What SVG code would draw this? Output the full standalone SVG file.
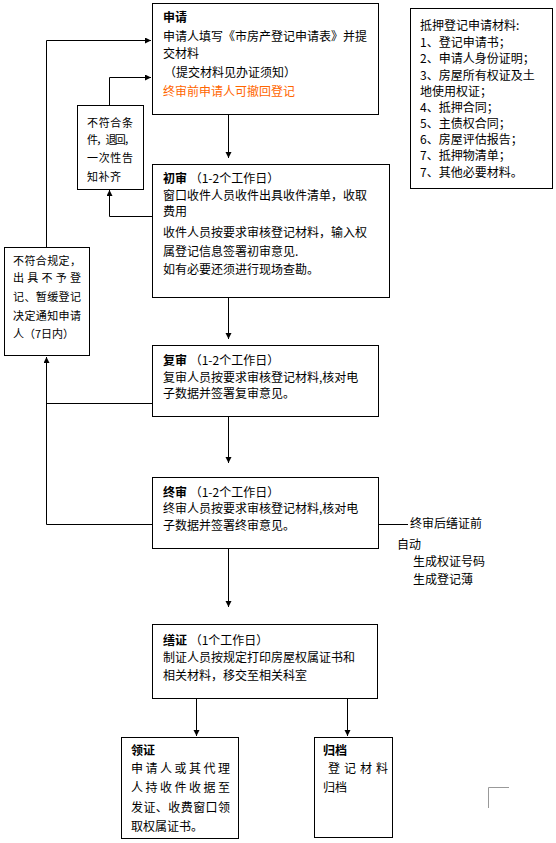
<svg xmlns="http://www.w3.org/2000/svg" width="556" height="843" viewBox="0 0 556 843">
<defs>
<marker id="ah" markerWidth="8" markerHeight="8" refX="6" refY="3" orient="auto" markerUnits="userSpaceOnUse">
<path d="M0,0 L6,3 L0,6 Z" fill="#000"/>
</marker>
<style>
text{font-family:"Noto Sans CJK SC","Noto Sans",sans-serif;font-size:12px;fill:#000}
.s{font-size:11px}
.b{font-weight:bold}
.o{fill:#FF6600}
rect{fill:#fff;stroke:#000;stroke-width:1}
.c{fill:none;stroke:#000;stroke-width:1}
</style>
</defs>
<rect x="0" y="0" width="556" height="843" style="stroke:none"/>
<g id="connectors">
<path class="c" d="M228.5,114 V158" marker-end="url(#ah)"/>
<path class="c" d="M228.5,297 V339" marker-end="url(#ah)"/>
<path class="c" d="M228.5,416 V463" marker-end="url(#ah)"/>
<path class="c" d="M228.5,549 V607" marker-end="url(#ah)"/>
<path class="c" d="M196.5,698 V736" marker-end="url(#ah)"/>
<path class="c" d="M347.5,698 V736" marker-end="url(#ah)"/>
<path class="c" d="M152,216.5 H109.5 V190" marker-end="url(#ah)"/>
<path class="c" d="M109.5,105 V77.5 H151" marker-end="url(#ah)"/>
<path class="c" d="M152,403.5 H46.5"/>
<path class="c" d="M152,524.5 H46.5 V357" marker-end="url(#ah)"/>
<path class="c" d="M46.5,247 V40.5 H151" marker-end="url(#ah)"/>
<path class="c" d="M378,524.5 H408"/>
</g>
<g id="apply">
<rect x="152.5" y="3.5" width="226" height="111"/>
<text x="163" y="22" class="b">申请</text>
<text x="163" y="41">申请人填写《市房产登记申请表》并提</text>
<text x="163" y="58">交材料</text>
<text x="164" y="77">（提交材料见办证须知）</text>
<text x="163" y="96" class="o">终审前申请人可撤回登记</text>
</g>
<g id="materials">
<rect x="410.5" y="8.5" width="142" height="180"/>
<text x="420" y="30">抵押登记申请材料:</text>
<text x="420" y="47">1、登记申请书；</text>
<text x="420" y="63">2、申请人身份证明；</text>
<text x="420" y="80">3、房屋所有权证及土</text>
<text x="420" y="96">地使用权证；</text>
<text x="420" y="112">4、抵押合同；</text>
<text x="420" y="128">5、主债权合同；</text>
<text x="420" y="144">6、房屋评估报告；</text>
<text x="420" y="160">7、抵押物清单；</text>
<text x="420" y="177">7、其他必要材料。</text>
</g>
<g id="return">
<rect x="77.5" y="105.5" width="66" height="84"/>
<text x="87" y="127" class="s" textLength="46" lengthAdjust="spacing">不符合条</text>
<text x="87" y="144" class="s" textLength="48" lengthAdjust="spacing">件，退回，</text>
<text x="87" y="162" class="s" textLength="46" lengthAdjust="spacing">一次性告</text>
<text x="87" y="181" class="s" textLength="34" lengthAdjust="spacing">知补齐</text>
</g>
<g id="reject">
<rect x="4.5" y="247.5" width="85" height="108"/>
<text x="13" y="265" class="s" textLength="68" lengthAdjust="spacing">不符合规定，</text>
<text x="13" y="282" class="s" textLength="68" lengthAdjust="spacing">出具不予登</text>
<text x="13" y="301" class="s" textLength="68" lengthAdjust="spacing">记、暂缓登记</text>
<text x="13" y="320" class="s" textLength="68" lengthAdjust="spacing">决定通知申请</text>
<text x="13" y="338" class="s">人（7日内）</text>
</g>
<g id="first">
<rect x="152.5" y="164.5" width="237" height="133"/>
<text x="163" y="183"><tspan class="b">初审</tspan> （1-2个工作日）</text>
<text x="163" y="200">窗口收件人员收件出具收件清单，收取</text>
<text x="163" y="216">费用</text>
<text x="163" y="237">收件人员按要求审核登记材料，输入权</text>
<text x="163" y="256">属登记信息签署初审意见.</text>
<text x="163" y="274">如有必要还须进行现场查勘。</text>
</g>
<g id="second">
<rect x="152.5" y="345.5" width="226" height="71"/>
<text x="163" y="365"><tspan class="b">复审</tspan> （1-2个工作日）</text>
<text x="163" y="382">复审人员按要求审核登记材料,核对电</text>
<text x="163" y="398">子数据并签署复审意见。</text>
</g>
<g id="final">
<rect x="152.5" y="477.5" width="226" height="71"/>
<text x="163" y="497"><tspan class="b">终审</tspan> （1-2个工作日）</text>
<text x="163" y="513">终审人员按要求审核登记材料,核对电</text>
<text x="163" y="530">子数据并签署终审意见。</text>
</g>
<g id="final-note">
<text x="410" y="528">终审后缮证前</text>
<text x="397" y="549">自动</text>
<text x="413" y="566">生成权证号码</text>
<text x="413" y="584">生成登记薄</text>
</g>
<g id="print">
<rect x="152.5" y="624.5" width="225" height="74"/>
<text x="163" y="645"><tspan class="b">缮证</tspan> （1个工作日）</text>
<text x="163" y="662">制证人员按规定打印房屋权属证书和</text>
<text x="163" y="680">相关材料，移交至相关科室</text>
</g>
<g id="collect">
<rect x="121.5" y="737.5" width="117" height="101"/>
<text x="131" y="755" class="b">领证</text>
<text x="131" y="773" textLength="99" lengthAdjust="spacing">申请人或其代理</text>
<text x="131" y="792" textLength="99" lengthAdjust="spacing">人持收件收据至</text>
<text x="131" y="812" textLength="99" lengthAdjust="spacing">发证、收费窗口领</text>
<text x="131" y="831">取权属证书。</text>
</g>
<g id="archive">
<rect x="314.5" y="737.5" width="78" height="100"/>
<text x="323" y="755" class="b">归档</text>
<text x="328" y="773" textLength="60" lengthAdjust="spacing">登记材料</text>
<text x="323" y="792">归档</text>
</g>
<path d="M488.5,808 V787.5 H509" fill="none" stroke="#999" stroke-width="1"/>
</svg>
